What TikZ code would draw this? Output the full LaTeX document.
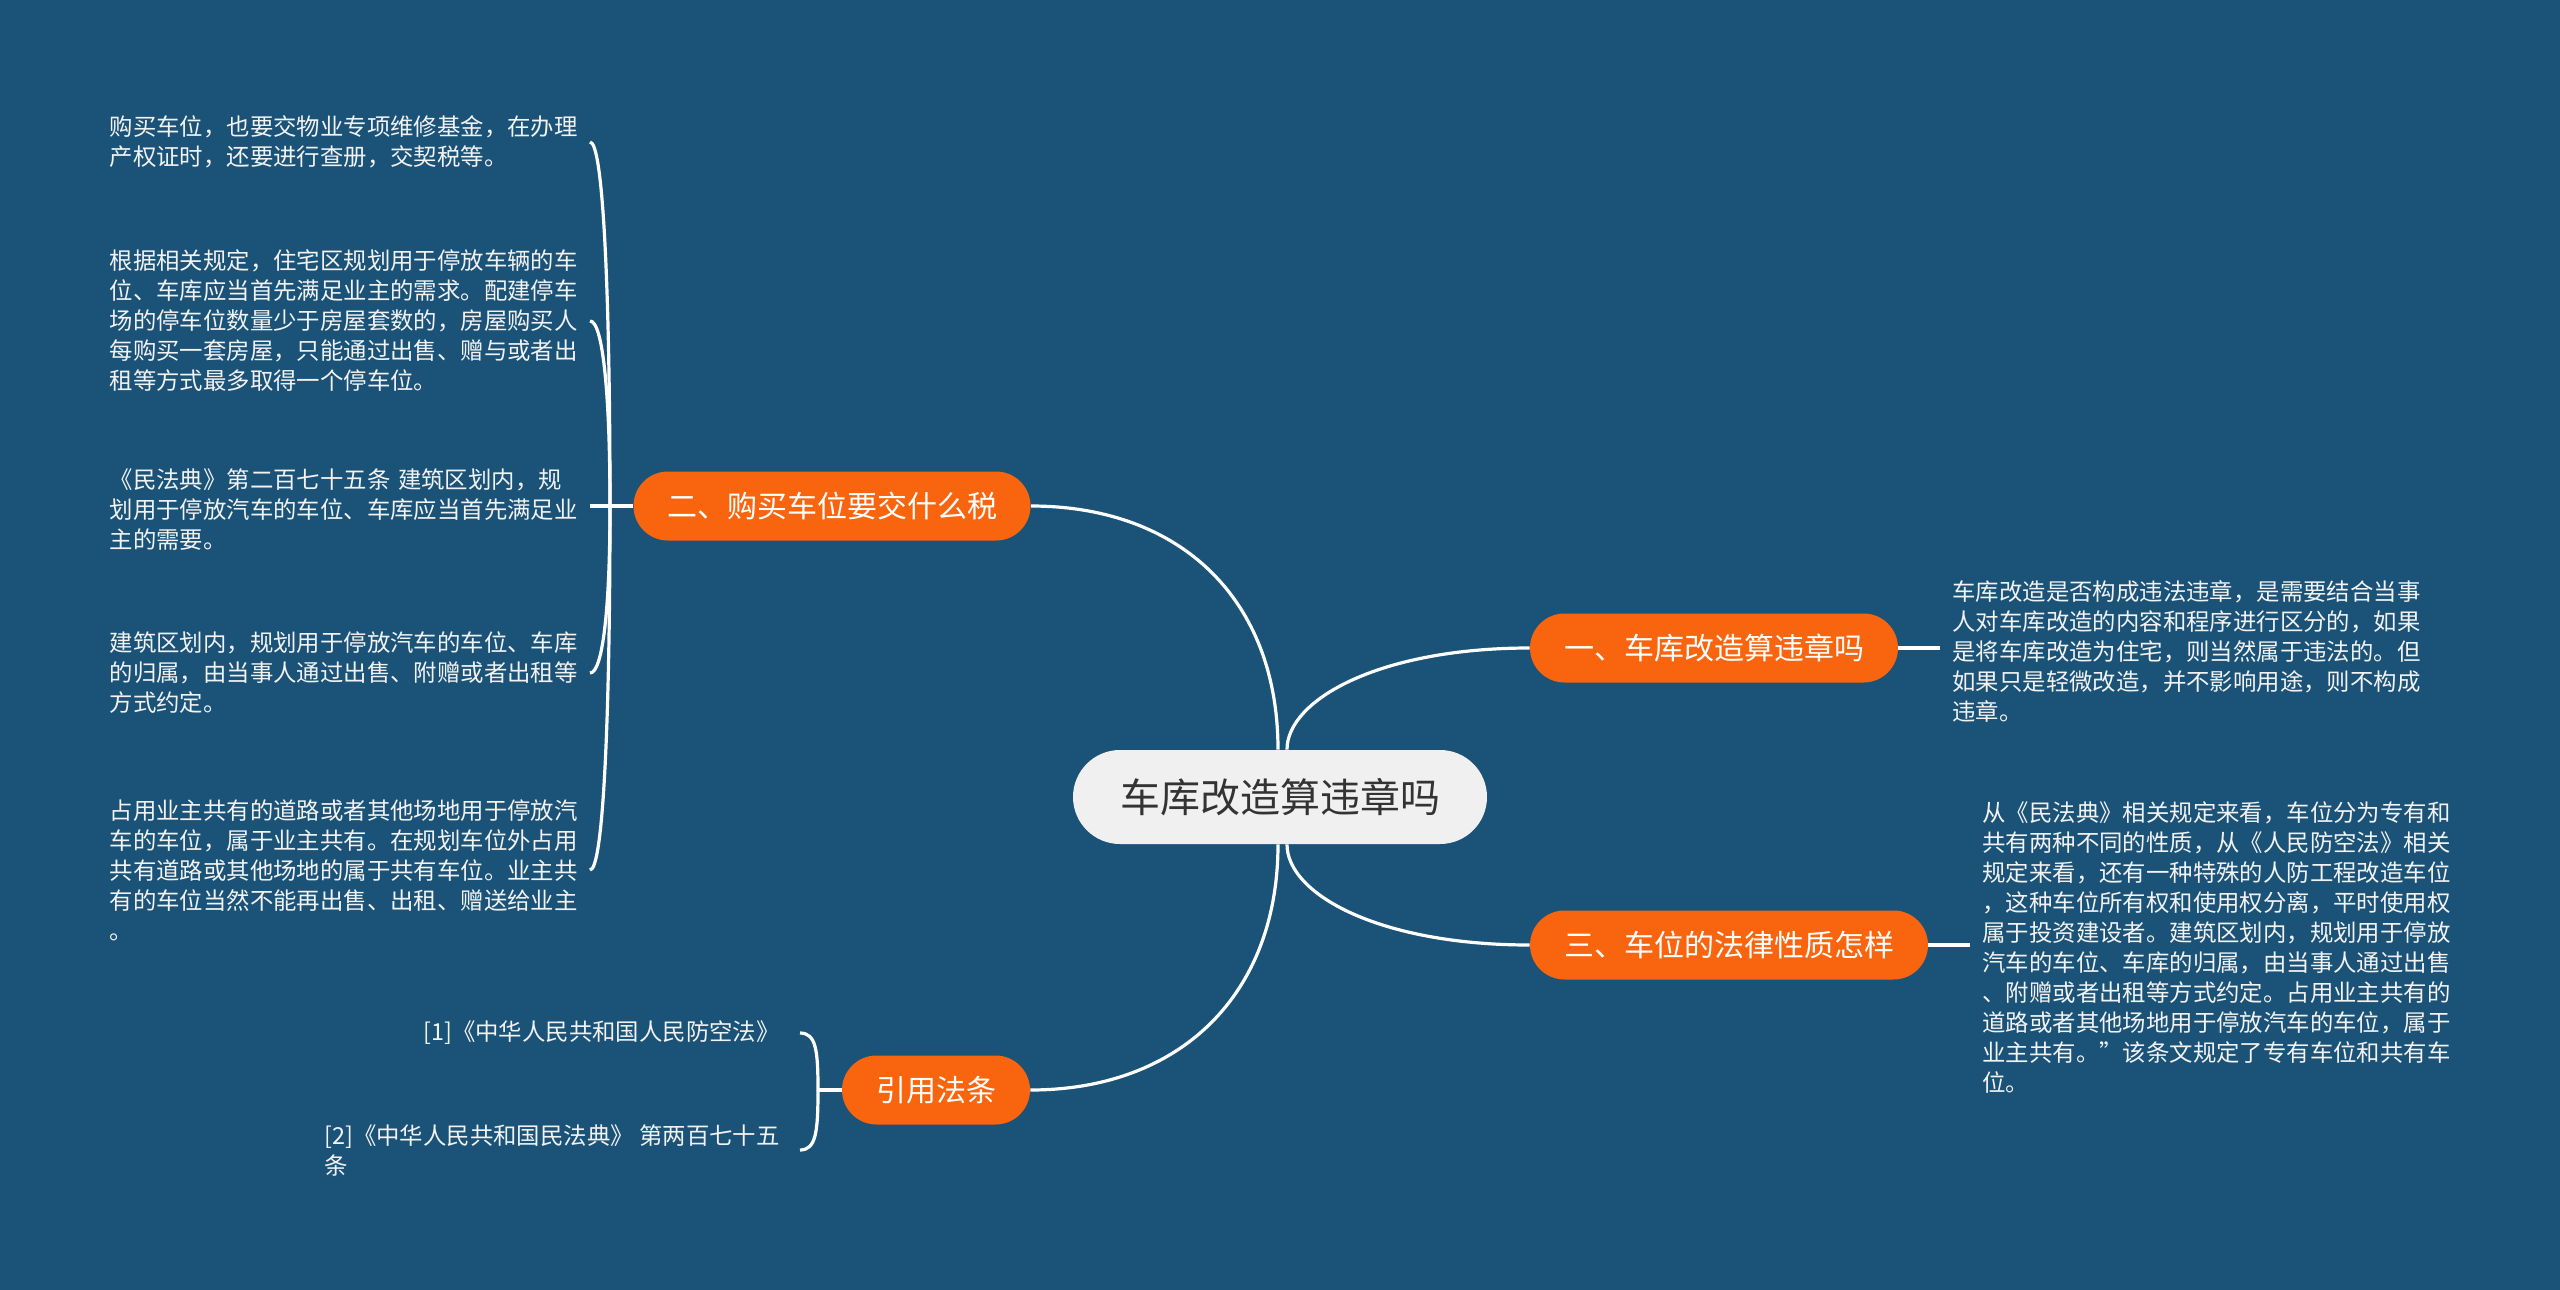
\documentclass[tikz,border=0pt]{standalone}
\usepackage{fontspec}
\setmainfont{Noto Sans CJK SC}
\usetikzlibrary{shapes.misc,calc}
\definecolor{bg}{HTML}{1B5378}
\definecolor{orng}{HTML}{F9650E}
\definecolor{ctrfill}{HTML}{F0F0F0}
\definecolor{ctrtext}{HTML}{333333}
\definecolor{txt}{HTML}{F2F2F2}
\begin{document}
\begin{tikzpicture}[x=0.5pt,y=-0.5pt,
  conn/.style={draw=white, line width=1.6pt},
  branch/.style={rounded rectangle, fill=orng, text=white, inner sep=0pt, minimum height=34.5pt, font=\fontsize{15}{18}\selectfont},
  leaf/.style={text=txt, align=left, font=\fontsize{11.7}{15}\selectfont, inner ysep=0pt, inner xsep=6pt},
  centre/.style={rounded rectangle, fill=ctrfill, text=ctrtext, minimum width=207pt, minimum height=47pt, inner sep=0pt, font=\fontsize{20}{24}\selectfont}
]
\fill[bg] (0,0) rectangle (2560,1290);
\useasboundingbox (0,0) rectangle (2560,1290);

\node[centre] (c) at (1280,797) {车库改造算违章吗};

\node[branch, minimum width=184pt] (b1) at (1714,648) {一、车库改造算违章吗};
\node[branch, minimum width=199pt] (b3) at (1729,945) {三、车位的法律性质怎样};
\node[branch, minimum width=198.5pt] (b2) at (832,506) {二、购买车位要交什么税};
\node[branch, minimum width=94pt] (b4) at (936,1090) {引用法条};

% main connectors
\draw[conn] ($(c.north)+(-2,0)$) .. controls ($(c.north)+(-2,-150)$) and ($(b2.east)+(150,0)$) .. (b2.east);
\draw[conn] ($(c.north)+(7,0)$) .. controls ($(c.north)+(7,-50)$) and ($(b1.west)+(-150,0)$) .. (b1.west);
\draw[conn] ($(c.south)+(7,0)$) .. controls ($(c.south)+(7,50)$) and ($(b3.west)+(-150,0)$) .. (b3.west);
\draw[conn] ($(c.south)+(-2,0)$) .. controls ($(c.south)+(-2,150)$) and ($(b4.east)+(150,0)$) .. (b4.east);

% right leaves
\node[leaf, anchor=west, text width=235pt] (l1) at (1940,651) {车库改造是否构成违法违章，是需要结合当事\\人对车库改造的内容和程序进行区分的，如果\\是将车库改造为住宅，则当然属于违法的。但\\如果只是轻微改造，并不影响用途，则不构成\\违章。};
\draw[conn] (b1.east) -- (b1.east -| l1.west);

\node[leaf, anchor=west, text width=235pt] (l3) at (1970,947) {从《民法典》相关规定来看，车位分为专有和\\共有两种不同的性质，从《人民防空法》相关\\规定来看，还有一种特殊的人防工程改造车位\\，这种车位所有权和使用权分离，平时使用权\\属于投资建设者。建筑区划内，规划用于停放\\汽车的车位、车库的归属，由当事人通过出售\\、附赠或者出租等方式约定。占用业主共有的\\道路或者其他场地用于停放汽车的车位，属于\\业主共有。”该条文规定了专有车位和共有车\\位。};
\draw[conn] (b3.east) -- (b3.east -| l3.west);

% left leaves of branch 2
\coordinate (j2) at (610,506);
\node[leaf, anchor=east, text width=235pt, inner xsep=5pt] (a1) at (590,142) {购买车位，也要交物业专项维修基金，在办理\\产权证时，还要进行查册，交契税等。};
\node[leaf, anchor=east, text width=235pt, inner xsep=5pt] (a2) at (590,321) {根据相关规定，住宅区规划用于停放车辆的车\\位、车库应当首先满足业主的需求。配建停车\\场的停车位数量少于房屋套数的，房屋购买人\\每购买一套房屋，只能通过出售、赠与或者出\\租等方式最多取得一个停车位。};
\node[leaf, anchor=east, text width=235pt, inner xsep=5pt] (a3) at (590,510) {《民法典》第二百七十五条 建筑区划内，规\\划用于停放汽车的车位、车库应当首先满足业\\主的需要。};
\node[leaf, anchor=east, text width=235pt, inner xsep=5pt] (a4) at (590,673) {建筑区划内，规划用于停放汽车的车位、车库\\的归属，由当事人通过出售、附赠或者出租等\\方式约定。};
\node[leaf, anchor=east, text width=235pt, inner xsep=5pt] (a5) at (590,870) {占用业主共有的道路或者其他场地用于停放汽\\车的车位，属于业主共有。在规划车位外占用\\共有道路或其他场地的属于共有车位。业主共\\有的车位当然不能再出售、出租、赠送给业主\\。};

\draw[conn] (b2.west) -- (j2);
\draw[conn] (a3.east |- j2) -- (j2);
\draw[conn] (a1.east) .. controls ($(a1.east)+(13,0)$) and ($(j2|-a1.east)!0.4!(j2)$) .. (j2);
\draw[conn] (a2.east) .. controls ($(a2.east)+(13,0)$) and ($(j2|-a2.east)!0.4!(j2)$) .. (j2);
\draw[conn] (a4.east) .. controls ($(a4.east)+(13,0)$) and ($(j2|-a4.east)!0.4!(j2)$) .. (j2);
\draw[conn] (a5.east) .. controls ($(a5.east)+(13,0)$) and ($(j2|-a5.east)!0.4!(j2)$) .. (j2);

% references
\coordinate (j4) at (818,1090);
\node[leaf, anchor=east, inner xsep=10pt] (r1) at (800,1033) {[1]《中华人民共和国人民防空法》};
\node[leaf, anchor=east, inner xsep=10pt] (r2) at (800,1150) {[2]《中华人民共和国民法典》 第两百七十五\\条};
\draw[conn] (b4.west) -- (j4);
\draw[conn] (r1.east) .. controls ($(r1.east)+(16,0)$) and ($(j4|-r1.east)!0.3!(j4)$) .. (j4);
\draw[conn] (r2.east) .. controls ($(r2.east)+(16,0)$) and ($(j4|-r2.east)!0.3!(j4)$) .. (j4);
\end{tikzpicture}
\end{document}
